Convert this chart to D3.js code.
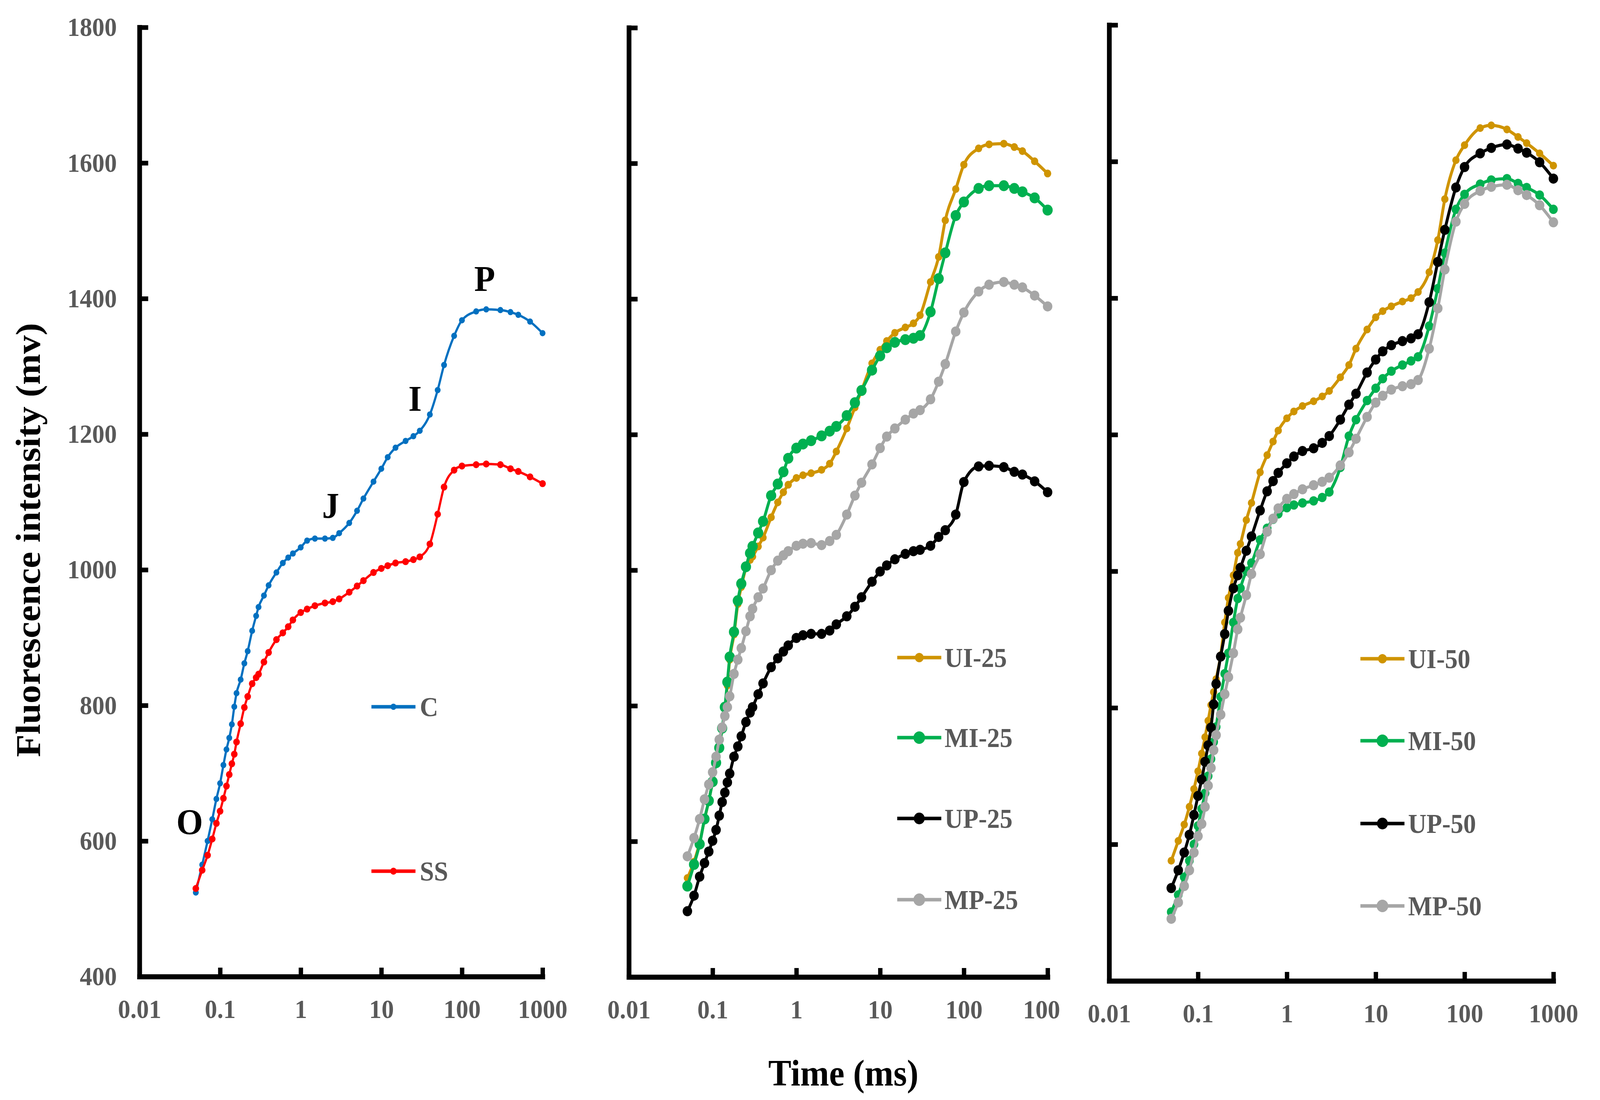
<!DOCTYPE html>
<html><head><meta charset="utf-8">
<script src="https://cdn.jsdelivr.net/npm/d3@7"></script>
<style>
html,body{margin:0;padding:0;background:#fff;width:100%;height:100%;overflow:hidden;}
svg{display:block;width:100vw;height:100vh;}
</style>
</head><body>
<svg id="chart" viewBox="0 0 4394 2817" preserveAspectRatio="none"></svg>
<script>
// ---------- DATA ----------
const TIME = [0.05,0.06,0.07,0.08,0.09,0.1,0.11,0.12,0.13,0.14,0.15,0.16,0.18,0.2,0.22,0.25,0.28,0.3,0.35,0.4,0.5,0.6,0.7,0.8,1,1.2,1.5,2,2.5,3,4,5,6,8,10,12,15,20,25,30,40,50,60,80,100,150,200,300,400,500,700,1000];

const C    = [524,565,600,632,662,685,712,735,752,772,798,818,838,862,880,910,932,945,962,977,996,1010,1018,1024,1033,1043,1046,1046,1047,1054,1069,1087,1105,1130,1149,1166,1180,1190,1197,1205,1229,1265,1302,1345,1368,1381,1384,1383,1380,1376,1366,1349];
const SS   = [530,557,579,603,626,644,663,681,698,714,728,746,773,797,813,832,841,846,864,878,897,907,916,926,937,942,947,951,953,957,967,976,984,996,1002,1006,1010,1012,1015,1019,1038,1082,1122,1147,1153,1155,1156,1155,1149,1145,1137,1127];

const UI25 = [546,570,598,632,660,688,716,740,765,795,830,868,905,950,975,1003,1015,1020,1035,1048,1078,1100,1115,1126,1136,1140,1143,1148,1157,1175,1209,1240,1265,1305,1325,1338,1350,1358,1364,1376,1425,1462,1516,1562,1598,1622,1628,1629,1624,1618,1603,1585];
const MI25 = [534,566,596,633,660,688,716,738,767,798,835,872,909,955,980,1005,1025,1035,1055,1072,1110,1127,1145,1165,1180,1186,1191,1198,1205,1212,1228,1247,1265,1295,1316,1328,1336,1340,1342,1346,1381,1430,1468,1523,1543,1563,1567,1567,1563,1558,1549,1531];
const UP25 = [497,520,548,568,585,601,617,638,658,672,687,700,725,740,755,776,790,798,817,833,857,870,880,889,900,904,906,906,911,920,932,946,960,983,998,1007,1016,1024,1028,1030,1036,1049,1059,1082,1130,1153,1154,1152,1145,1141,1131,1115];
const MP25 = [578,605,633,662,684,702,725,750,768,785,798,814,847,868,885,910,932,943,960,973,1000,1014,1022,1028,1036,1039,1040,1037,1043,1052,1082,1110,1129,1156,1180,1197,1209,1222,1231,1236,1252,1278,1304,1352,1380,1411,1421,1425,1421,1417,1405,1389];

const UI50 = [576,605,629,655,681,707,733,757,781,804,823,842,877,925,961,994,1027,1040,1075,1100,1145,1170,1190,1206,1224,1234,1242,1249,1256,1264,1284,1302,1326,1354,1372,1381,1388,1395,1400,1409,1438,1485,1545,1602,1624,1649,1653,1647,1636,1627,1612,1594];
const MI50 = [501,526,552,576,600,627,652,675,700,725,750,772,816,850,880,925,960,975,1000,1012,1046,1063,1076,1084,1093,1097,1100,1103,1108,1116,1152,1198,1222,1250,1268,1282,1293,1302,1308,1314,1359,1414,1466,1530,1552,1567,1573,1575,1568,1562,1551,1530];
const UP50 = [536,562,588,614,643,671,695,721,745,771,805,835,875,908,942,975,994,1005,1030,1051,1089,1117,1132,1144,1158,1168,1176,1180,1188,1198,1222,1244,1260,1291,1310,1322,1331,1337,1341,1347,1394,1453,1500,1562,1592,1612,1620,1625,1619,1613,1599,1575];
const MP50 = [491,515,539,562,588,612,630,655,686,712,738,760,790,820,845,880,915,932,965,996,1025,1058,1077,1092,1106,1113,1120,1126,1131,1137,1155,1174,1194,1226,1247,1257,1266,1271,1274,1280,1326,1385,1442,1512,1538,1557,1563,1566,1558,1551,1536,1511];

const X_TICKS = [0.01,0.1,1,10,100,1000];
const Y_TICKS = [400,600,800,1000,1200,1400,1600,1800];
const X_DOMAIN = [0.01,1000];
const Y_DOMAIN = [400,1800];

const PANEL1_NAMES = ["C","SS"];
const PANEL2_NAMES = ["UI-25","MI-25","UP-25","MP-25"];
const PANEL3_NAMES = ["UI-50","MI-50","UP-50","MP-50"];
const PHASE_LABELS = ["O","J","I","P"];
const Y_TITLE = "Fluorescence intensity (mv)";
const X_TITLE = "Time (ms)";

// ---------- STYLE / LAYOUT ----------
const FONT = '"Times New Roman", "Liberation Serif", serif';
const GRAY_TEXT = '#595959';
const COL = {blue:'#0070C0', red:'#FF0000', orange:'#CF9400', green:'#00B050', black:'#000000', gray:'#A6A6A6'};

const panels = [
  { xr:[383,1490], yr:[2501,70], yLabels:true,
    series:[
      {name:PANEL1_NAMES[0], data:C,  color:COL.blue, r:8, w:6, lr:8},
      {name:PANEL1_NAMES[1], data:SS, color:COL.red,  r:9, w:6, lr:9}
    ],
    legend:{x1:1020, x2:1141, tx:1153, ys:[1810,2231]} },
  { xr:[1727,2877], yr:[2502,71], yLabels:false,
    series:[
      {name:PANEL2_NAMES[0], data:UI25, color:COL.orange, r:10, w:8, lr:12},
      {name:PANEL2_NAMES[1], data:MI25, color:COL.green,  r:14, w:8, lr:16},
      {name:PANEL2_NAMES[2], data:UP25, color:COL.black,  r:13, w:8, lr:15},
      {name:PANEL2_NAMES[3], data:MP25, color:COL.gray,   r:13, w:8, lr:16}
    ],
    legend:{x1:2464, x2:2585, tx:2594, ys:[1684,1889,2096,2304]} },
  { xr:[3046,4266], yr:[2512,64], yLabels:false, bgFrom:2912,
    series:[
      {name:PANEL3_NAMES[0], data:UI50, color:COL.orange, r:10, w:8, lr:12},
      {name:PANEL3_NAMES[1], data:MI50, color:COL.green,  r:12, w:8, lr:16},
      {name:PANEL3_NAMES[2], data:UP50, color:COL.black,  r:13, w:8, lr:15},
      {name:PANEL3_NAMES[3], data:MP50, color:COL.gray,   r:13, w:8, lr:16}
    ],
    legend:{x1:3736, x2:3857, tx:3867, ys:[1687,1897,2109,2320]} }
];

const svg = d3.select('#chart');
svg.append('rect').attr('width',4394).attr('height',2817).attr('fill','#fff');

panels.forEach(p => {
  const g = svg.append('g');
  if (p.bgFrom) {
    g.append('rect').attr('x', p.bgFrom).attr('y', 0)
      .attr('width', 4394 - p.bgFrom).attr('height', 2817).attr('fill', '#fff');
  }
  const x = d3.scaleLog().domain(X_DOMAIN).range(p.xr);
  const y = d3.scaleLinear().domain(Y_DOMAIN).range(p.yr);
  const line = d3.line().x(d => x(d[0])).y(d => y(d[1])).curve(d3.curveMonotoneX);

  p.series.forEach(s => {
    const pts = TIME.map((t, k) => [t, s.data[k]]);
    const sg = g.append('g');
    sg.append('path').datum(pts).attr('fill','none').attr('stroke', s.color)
      .attr('stroke-width', s.w).attr('stroke-linejoin','round').attr('d', line);
    sg.selectAll('circle').data(pts).join('circle')
      .attr('cx', d => x(d[0])).attr('cy', d => y(d[1])).attr('r', s.r).attr('fill', s.color);
  });

  // axes
  const ya = d3.axisLeft(y).tickValues(Y_TICKS).tickSize(-24).tickSizeOuter(0).tickPadding(62)
    .tickFormat(p.yLabels ? d3.format('d') : () => '');
  const gy = g.append('g').attr('transform', `translate(${p.xr[0]},0)`).call(ya);
  const xa = d3.axisBottom(x).tickValues(X_TICKS).tickSize(-23).tickSizeOuter(0)
    .tickFormat(d => String(d));
  const gx = g.append('g').attr('transform', `translate(0,${p.yr[0]})`).call(xa);

  [gy, gx].forEach(a => {
    a.select('.domain').attr('stroke','#000').attr('stroke-width',13).attr('stroke-linecap','square');
    a.selectAll('.tick line').attr('stroke','#000').attr('stroke-width',12);
    a.selectAll('.tick text').attr('fill', GRAY_TEXT).attr('font-family', FONT)
      .attr('font-weight','bold').attr('font-size', 68);
  });
  gx.selectAll('.tick text').attr('y', 106).attr('dy', 0);

  // legend
  p.series.forEach((s, k) => {
    const ly = p.legend.ys[k];
    const lg = g.append('g');
    lg.append('line').attr('x1', p.legend.x1).attr('x2', p.legend.x2).attr('y1', ly).attr('y2', ly)
      .attr('stroke', s.color).attr('stroke-width', 9);
    lg.append('circle').attr('cx', (p.legend.x1 + p.legend.x2) / 2).attr('cy', ly)
      .attr('r', s.lr).attr('fill', s.color);
    lg.append('text').attr('x', p.legend.tx).attr('y', ly).attr('dy', '0.34em')
      .attr('font-family', FONT).attr('font-weight','bold').attr('font-size', 70)
      .attr('fill', GRAY_TEXT).text(s.name);
  });
});

// phase labels in panel 1
const phasePos = [[521,2136],[908,1326],[1140,1052],[1331,745]];
PHASE_LABELS.forEach((t, i) => {
  svg.append('text').attr('x', phasePos[i][0]).attr('y', phasePos[i][1])
    .attr('text-anchor','middle').attr('font-family', FONT).attr('font-weight','bold')
    .attr('font-size', 94).attr('fill','#000').text(t);
});

// titles
svg.append('text').attr('transform','translate(109,1383) rotate(-90)')
  .attr('text-anchor','middle').attr('font-family', FONT).attr('font-weight','bold')
  .attr('font-size', 95).attr('fill','#000').text(Y_TITLE);
svg.append('text').attr('x', 2316).attr('y', 2780)
  .attr('text-anchor','middle').attr('font-family', FONT).attr('font-weight','bold')
  .attr('font-size', 95).attr('fill','#000').text(X_TITLE);
</script>
</body></html>
